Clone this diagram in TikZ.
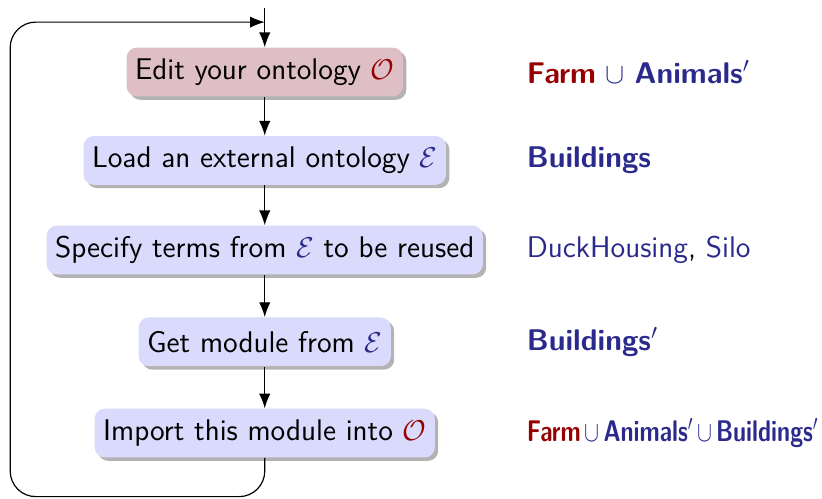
\documentclass[tikz,border=0pt]{standalone}
\usepackage{amsmath,amssymb}
\usepackage{graphicx}
\usepackage{tikz}
\usetikzlibrary{arrows.meta,positioning,shadows}

\definecolor{OntoRed}{RGB}{150,0,0}
\definecolor{OntoBlue}{RGB}{42,42,140}
\definecolor{StepFill}{RGB}{218,218,252}
\definecolor{EditFill}{RGB}{222,191,198}

\newcommand{\Ont}{\textcolor{OntoRed}{$\mathcal{O}$}}
\newcommand{\Ext}{\textcolor{OntoBlue}{$\mathcal{E}$}}

\tikzset{
  stepbox/.style={draw=none,fill=StepFill,rounded corners=0.18cm,
    minimum height=0.86cm,inner xsep=0.15cm,
    drop shadow={shadow xshift=0.06cm,shadow yshift=-0.06cm,opacity=0.6}},
  flow/.style={-{Latex[length=2.6mm,width=2mm]},semithick},
  result/.style={anchor=west,text=OntoBlue}
}

\begin{document}
\begin{tikzpicture}[font=\sffamily\fontsize{15}{18}\selectfont]
  \useasboundingbox (0,0) rectangle (14.5,8.8);

  % the five steps
  \node[stepbox,fill=EditFill] (edit) at (4.67,7.53) {Edit your ontology \Ont};
  \node[stepbox] (load) at (4.67,5.97) {Load an external ontology \Ext};
  \node[stepbox] (terms) at (4.67,4.39) {Specify terms from \Ext\ to be reused};
  \node[stepbox] (module) at (4.67,2.77) {Get module from \Ext};
  \node[stepbox] (import) at (4.67,1.16) {Import this module into \Ont};

  % what each step gives
  \node[result] (r1) at (9.17,7.53) {\textbf{\textcolor{OntoRed}{Farm}} $\cup$ \textbf{Animals}$'$};
  \node[result] (r2) at (9.17,5.97) {\textbf{Buildings}};
  \node[result] (r3) at (9.17,4.39) {DuckHousing\textcolor{black}{,} Silo};
  \node[result] (r4) at (9.17,2.77) {\textbf{Buildings}$'$};
  \node[result] (r5) at (9.17,1.16) {\scalebox{0.78}[1]{\textbf{\textcolor{OntoRed}{Farm}}\,$\cup$\,\textbf{Animals}$'$\,$\cup$\,\textbf{Buildings}$'$}};

  % main flow
  \coordinate (start) at (4.67,8.66);
  \coordinate (join) at (4.67,8.41);
  \draw[flow] (start) -- (edit);
  \draw[flow] (edit) -- (load);
  \draw[flow] (load) -- (terms);
  \draw[flow] (terms) -- (module);
  \draw[flow] (module) -- (import);

  % back to the start
  \draw[flow,rounded corners=0.45cm] (import.south) |- (0.18,0.04) |- (join);
\end{tikzpicture}
\end{document}
